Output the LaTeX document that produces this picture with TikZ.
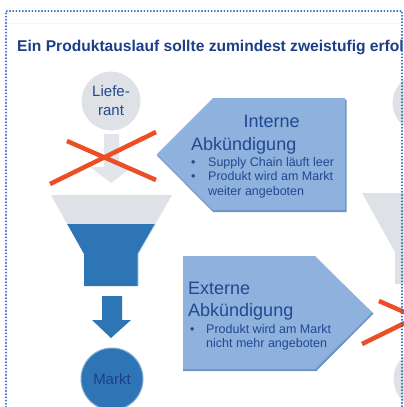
\documentclass[tikz,border=0pt]{standalone}
\usepackage{fontspec}
\setmainfont{Liberation Sans}
\usepackage{tikz}
\usetikzlibrary{positioning,calc}
\definecolor{TitleBlue}{RGB}{28,63,135}
\definecolor{TextBlue}{RGB}{33,72,145}
\definecolor{FrameBlue}{RGB}{30,105,200}
\definecolor{FunnelGray}{RGB}{222,225,229}
\definecolor{ArrowGray}{RGB}{226,229,233}
\definecolor{FunnelBlue}{RGB}{46,117,182}
\definecolor{BoxBlue}{RGB}{142,178,221}
\definecolor{BoxShade}{RGB}{112,148,196}
\definecolor{CrossRed}{RGB}{236,78,38}
\tikzset{
  graycircle/.style={circle, fill=FunnelGray, draw=white, line width=1pt,
    minimum size=60pt, inner sep=0pt, align=center, text=TextBlue,
    font=\fontsize{15}{19}\selectfont},
  bluecircle/.style={circle, fill=FunnelBlue, draw=FunnelBlue!60, line width=1pt,
    minimum size=62pt, inner sep=0pt, align=center, text=TitleBlue,
    font=\fontsize{15}{19}\selectfont},
  bigtext/.style={anchor=base west, inner sep=0pt, text=TextBlue,
    font=\fontsize{18}{22}\selectfont},
  bullettext/.style={anchor=base west, inner sep=0pt, text=TextBlue,
    font=\fontsize{12.5}{14.5}\selectfont},
  pentabox/.style={fill=BoxBlue},
  pentashade/.style={fill=BoxShade},
  cross/.style={draw=CrossRed, line width=4.5pt},
  frameline/.style={draw=FrameBlue, line width=2.1pt, dash pattern=on 0pt off 3.2pt, line cap=round}
}

\begin{document}
\begin{tikzpicture}[x=1pt, y=-1pt]
  \clip (0,0) rectangle (404,407);
  \fill[white] (0,0) rectangle (404,407);

  % title
  \draw[gray!8, line width=0.8pt] (6,23) -- (402,23);
  \node[anchor=base west, inner sep=0pt, text=TitleBlue, font=\fontsize{15.6}{18}\selectfont\bfseries]
    (title) at (17,51) {Ein Produktauslauf sollte zumindest zweistufig erfolgen};

  % left column
  \fill[ArrowGray] (104,134) -- (119,134) -- (119,167) -- (132,167) -- (111,183)
    -- (90,167) -- (104,167) -- cycle;
  \node[graycircle] (lieferant) at (111,101) {Liefe-\\rant};

  \fill[FunnelGray] (51,195) -- (172,195) -- (155.3,224) -- (67.2,224) -- cycle;
  \fill[FunnelBlue] (67.2,224) -- (155.3,224) -- (138,254) -- (138,286)
    -- (84,286) -- (84,254) -- cycle;
  \draw[white!70!FunnelBlue, line width=0.8pt] (155.3,224) -- (138,254) -- (138,286);

  \fill[FunnelBlue] (102,296) -- (122,296) -- (122,320) -- (131,320) -- (111,338)
    -- (92,320) -- (102,320) -- cycle;
  \node[bluecircle] (markt) at (112,379) {Markt};

  \draw[cross] (50,184) -- (156,132);
  \draw[cross] (67,141) -- (156,180);

  % right column
  \node[graycircle] (lieferant2) at (422,103) {};
  \fill[FunnelGray] (362,193) -- (483,193) -- (449,252) -- (449,284)
    -- (395,284) -- (395,252) -- cycle;
  \node[graycircle, minimum size=62pt, text=TitleBlue] (markt2) at (424,379) {Markt};
  \draw[cross] (362,344) -- (468,292);
  \draw[cross] (379,301) -- (468,340);

  % interne Abkuendigung
  \fill[pentashade] (345,99.5) -- (213,99.5) -- (157,155.5) -- (213,212) -- (346.5,212) -- (346.5,99.5) -- cycle;
  \fill[pentabox] (345,98) -- (213,98) -- (157,154) -- (213,210) -- (345,210) -- cycle;
  \node[bigtext] (intern1) at (243.5,127.5) {Interne};
  \node[bigtext] (intern2) at (191,150) {Abkündigung};
  \node[bullettext] (ib1) at (191,166) {\textbullet};
  \node[bullettext] (it1) at (208,166) {Supply Chain läuft leer};
  \node[bullettext] (ib2) at (191,180.5) {\textbullet};
  \node[bullettext] (it2) at (208,180.5) {Produkt wird am Markt};
  \node[bullettext] (it3) at (208,195) {weiter angeboten};

  % externe Abkuendigung
  \fill[pentashade] (183,257.5) -- (315,257.5) -- (373.5,313.5) -- (316.5,371) -- (183,371) -- cycle;
  \fill[pentabox] (183,256) -- (315,256) -- (372,312.5) -- (315,369) -- (183,369) -- cycle;
  \node[bigtext] (extern1) at (188,294.3) {Externe};
  \node[bigtext] (extern2) at (188,316) {Abkündigung};
  \node[bullettext] (eb1) at (190,333.5) {\textbullet};
  \node[bullettext] (et1) at (206,333.5) {Produkt wird am Markt};
  \node[bullettext] (et2) at (206,347.5) {nicht mehr angeboten};

  % dotted frame
  \draw[frameline] (6,407) -- (6,11) -- (402,11) -- (402,407);
\end{tikzpicture}
\end{document}
